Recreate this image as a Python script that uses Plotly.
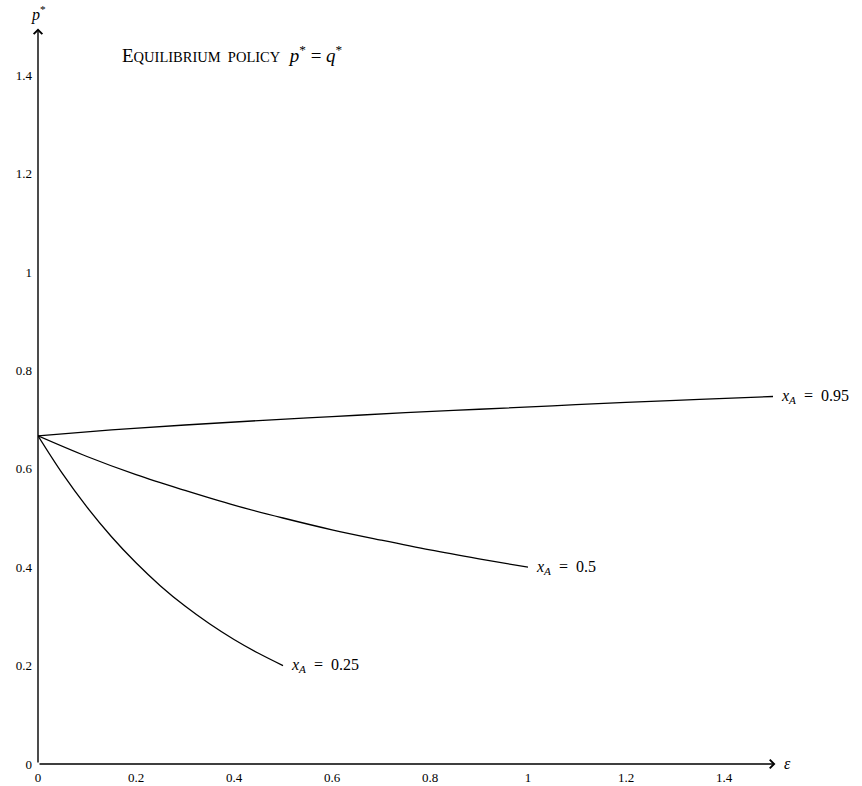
import plotly.graph_objects as go

# Data
eps_095 = [0, 0.15, 0.3, 0.45, 0.6, 0.75, 0.9, 1.05, 1.2, 1.35, 1.5]
p_095 = [0.667, 0.679, 0.689, 0.698, 0.706, 0.714, 0.721, 0.728, 0.735, 0.741, 0.747]

eps_05 = [0, 0.1, 0.2, 0.3, 0.4, 0.5, 0.6, 0.7, 0.8, 0.9, 1.0]
p_05 = [0.667, 0.625, 0.588, 0.556, 0.526, 0.5, 0.476, 0.455, 0.435, 0.417, 0.4]

eps_025 = [0, 0.05, 0.1, 0.15, 0.2, 0.25, 0.3, 0.35, 0.4, 0.45, 0.5]
p_025 = [0.667, 0.590, 0.522, 0.462, 0.409, 0.362, 0.321, 0.285, 0.253, 0.225, 0.2]

series = [
    ("<i>x<sub>A</sub></i>&nbsp;&nbsp;=&nbsp;&nbsp;0.95", eps_095, p_095),
    ("<i>x<sub>A</sub></i>&nbsp;&nbsp;=&nbsp;&nbsp;0.5", eps_05, p_05),
    ("<i>x<sub>A</sub></i>&nbsp;&nbsp;=&nbsp;&nbsp;0.25", eps_025, p_025),
]

tick_vals = [0, 0.2, 0.4, 0.6, 0.8, 1.0, 1.2, 1.4]
tick_text = ["0", "0.2", "0.4", "0.6", "0.8", "1", "1.2", "1.4"]

FONT = "Liberation Serif"

fig = go.Figure()
for name, xs, ys in series:
    fig.add_trace(go.Scatter(x=xs, y=ys, mode="lines", line=dict(color="black", width=1.3, shape="spline", smoothing=1.0),
                             showlegend=False, hoverinfo="skip"))
    fig.add_annotation(x=xs[-1], y=ys[-1], text=name, showarrow=False, xanchor="left", yanchor="middle",
                       xshift=6, font=dict(family=FONT, size=16, color="black"))

# axes arrows
fig.add_annotation(x=1.505, y=0, ax=0, ay=0, xref="x", yref="y", axref="x", ayref="y", text="",
                   showarrow=True, arrowhead=4, arrowsize=1.2, arrowwidth=1.4, arrowcolor="black", standoff=0)
fig.add_annotation(x=0, y=1.495, ax=0, ay=0, xref="x", yref="y", axref="x", ayref="y", text="",
                   showarrow=True, arrowhead=4, arrowsize=1.2, arrowwidth=1.4, arrowcolor="black", standoff=0)

fig.add_annotation(x=1.5, y=0, text="<i>ε</i>", showarrow=False, xanchor="left", yanchor="middle",
                   xshift=9, yshift=1, font=dict(family=FONT, size=16, color="black"))
fig.add_annotation(x=0, y=1.495, text="<i>p</i><sup>*</sup>", showarrow=False, xanchor="center", yanchor="bottom",
                   yshift=2, font=dict(family=FONT, size=16, color="black"))

fig.add_annotation(x=0.167, y=1.443, xref="x", yref="y", showarrow=False, xanchor="left", yanchor="middle",
                   text="E<span style='font-size:14.5px'>QUILIBRIUM&nbsp;&nbsp;POLICY</span>&nbsp;&nbsp;<i>p</i><sup>*</sup>&nbsp;=&nbsp;<i>q</i><sup>*</sup>",
                   font=dict(family=FONT, size=19, color="black"))

fig.update_xaxes(range=[0, 1.5], showgrid=False, zeroline=False, showline=False, ticks="", automargin=False,
                 tickvals=tick_vals, ticktext=tick_text, tickfont=dict(family=FONT, size=13, color="black"),
                 ticklabelstandoff=4)
fig.update_yaxes(range=[0, 1.5], showgrid=False, zeroline=False, showline=False, ticks="", automargin=False,
                 tickvals=tick_vals, ticktext=tick_text, tickfont=dict(family=FONT, size=13, color="black"),
                 ticklabelstandoff=5)

fig.update_layout(width=862, height=786, margin=dict(l=38, r=89, t=26, b=22),
                  plot_bgcolor="white", paper_bgcolor="white")

fig.write_html("out.html")
